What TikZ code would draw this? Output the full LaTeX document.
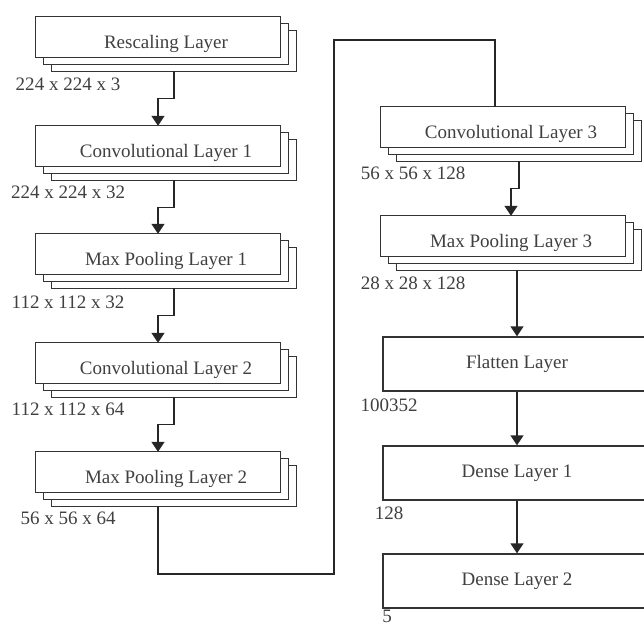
\documentclass[tikz,border=0pt]{standalone}
\usepackage{fontspec}
\setmainfont{Liberation Serif}
\usetikzlibrary{arrows.meta}
\usetikzlibrary{backgrounds}

\tikzset{
	stack/.style={minimum width=260pt, minimum height=54pt, inner sep=0pt, text=black!75},
	single/.style={draw=black!80, line width=1.3pt, minimum width=268pt, minimum height=54pt, inner sep=0pt, text=black!75},
	sheet/.style={draw=black!80, fill=white, line width=1.3pt},
	dim/.style={text=black!75, inner sep=0pt},
	flow/.style={draw=black!85, line width=1.3pt, -{Triangle[width=13pt,length=10pt]}},
	link/.style={draw=black!85, line width=1.3pt}
}

\begin{document}
\begin{tikzpicture}[x=1pt, y=-1pt, font=\fontsize{19}{22}\selectfont]
	
	\useasboundingbox (0,0) rectangle (644,625);
	
	% Stacked layers (left column)
	\node[stack] (resc) at (166,44) {Rescaling Layer};
	\node[stack] (conv1) at (166,153) {Convolutional Layer 1};
	\node[stack] (pool1) at (166,261) {Max Pooling Layer 1};
	\node[stack] (conv2) at (166,370) {Convolutional Layer 2};
	\node[stack] (pool2) at (166,479) {Max Pooling Layer 2};
	
	% Stacked layers (right column)
	\node[stack] (conv3) at (511,134) {Convolutional Layer 3};
	\node[stack] (pool3) at (511,243) {Max Pooling Layer 3};
	
	% Single layers
	\node[single] (flat) at (517,364) {Flatten Layer};
	\node[single] (dense1) at (517,473) {Dense Layer 1};
	\node[single] (dense2) at (517,581) {Dense Layer 2};
	
	% Three sheets behind every stacked layer
	\begin{scope}[on background layer]
		\fill[white] (0,0) rectangle (644,625);
		\foreach \n in {resc,conv1,pool1,conv2,pool2,conv3,pool3}{
			\draw[sheet] ([xshift=16pt,yshift=-14pt]\n.north west) rectangle (\n.south east);
			\draw[sheet] ([xshift=8pt,yshift=-7pt]\n.north west) rectangle ([xshift=-8pt,yshift=7pt]\n.south east);
			\draw[sheet] (\n.north west) rectangle ([xshift=-16pt,yshift=14pt]\n.south east);
		}
	\end{scope}
	
	% Output shapes
	\node[dim] (d-resc) at (68,84) {224 x 224 x 3};
	\node[dim] (d-conv1) at (68,192) {224 x 224 x 32};
	\node[dim] (d-pool1) at (68,302) {112 x 112 x 32};
	\node[dim] (d-conv2) at (68,409) {112 x 112 x 64};
	\node[dim] (d-pool2) at (68,518) {56 x 56 x 64};
	\node[dim] (d-conv3) at (413,173) {56 x 56 x 128};
	\node[dim] (d-pool3) at (413,283) {28 x 28 x 128};
	\node[dim] (d-flat) at (389,405) {100352};
	\node[dim] (d-dense1) at (389,513) {128};
	\node[dim] (d-dense2) at (387,616) {5};
	
	% Arrows down the left column
	\draw[flow] ([xshift=8pt]resc.south) -- ++(0,27) -| ([xshift=-8pt]conv1.north);
	\draw[flow] ([xshift=8pt]conv1.south) -- ++(0,27) -| ([xshift=-8pt]pool1.north);
	\draw[flow] ([xshift=8pt]pool1.south) -- ++(0,27) -| ([xshift=-8pt]conv2.north);
	\draw[flow] ([xshift=8pt]conv2.south) -- ++(0,27) -| ([xshift=-8pt]pool2.north);
	
	% Jump over to the right column
	\coordinate (low) at (334,574);
	\coordinate (high) at (334,40);
	\draw[link] ([xshift=-8pt]pool2.south) |- (low) -- (high) -| ([xshift=-16pt]conv3.north);
	
	% Arrows down the right column
	\draw[flow] ([xshift=8pt]conv3.south) -- ++(0,27) -| (pool3.north);
	\draw[flow] (flat.north |- pool3.south) -- (flat.north);
	\draw[flow] (flat.south) -- (dense1.north);
	\draw[flow] (dense1.south) -- (dense2.north);
	
\end{tikzpicture}
\end{document}
